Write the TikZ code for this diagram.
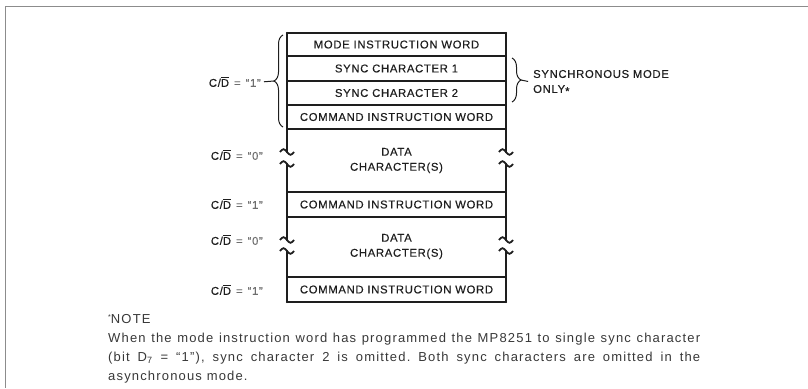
\documentclass[tikz,border=0pt]{standalone}
\usepackage{fontspec}
\setmainfont{Liberation Sans}
\newfontfamily\boxfont[LetterSpace=6,FakeBold=0.4]{Liberation Sans}
\newfontfamily\notefont[LetterSpace=9]{Liberation Sans}
\usetikzlibrary{decorations.pathreplacing}
\definecolor{ink}{HTML}{1E1E1E}
\definecolor{soft}{HTML}{6E6E6E}
\definecolor{frame}{HTML}{8C8C8C}
\definecolor{notecol}{HTML}{383838}
\begin{document}
\frenchspacing
\begin{tikzpicture}[x=1pt,y=-1pt,
  rowtext/.style={font=\boxfont\fontsize{11.3}{15}\selectfont, text=ink, inner sep=0pt, align=center},
  sidelabel/.style={font=\boxfont\fontsize{11.3}{15}\selectfont, text=ink, inner sep=0pt, anchor=east},
  outerline/.style={line width=2.2pt, draw=ink, line cap=round},
  divider/.style={line width=1.3pt, draw=ink},
  bracestyle/.style={draw=ink, line width=1pt, decorate, decoration={brace, amplitude=9pt}},
  tickline/.style={draw=ink, line width=1pt},
  brk/.pic={\draw[line width=1.8pt, draw=ink] (-7,0) sin (-3.5,-2.8) cos (0,0) sin (3.5,2.8) cos (7,0);}
]
\useasboundingbox (0,0) rectangle (808,388);
% frame
\draw[line width=1pt, draw=frame] (808,6) -- (5,6) -- (5,388);

% rows (text nodes)
\node[rowtext] (mode) at (396.5,44.5) {MODE INSTRUCTION WORD};
\node[rowtext] (sync1) at (396.5,68.5) {SYNC CHARACTER 1};
\node[rowtext] (sync2) at (396.5,93) {SYNC CHARACTER 2};
\node[rowtext] (cmd1) at (396.5,117) {COMMAND INSTRUCTION WORD};
\node[rowtext] (data1) at (396.5,160.5) {DATA\\CHARACTER(S)};
\node[rowtext] (cmd2) at (396.5,204.5) {COMMAND INSTRUCTION WORD};
\node[rowtext] (data2) at (396.5,246.5) {DATA\\CHARACTER(S)};
\node[rowtext] (cmd3) at (396.5,289.5) {COMMAND INSTRUCTION WORD};

% outer box
\draw[outerline] (287,33) -- (506,33);
\draw[outerline] (287,302) -- (506,302);
\foreach \x in {287,506}{
  \draw[outerline] (\x,33) -- (\x,152);
  \draw[outerline] (\x,164) -- (\x,240);
  \draw[outerline] (\x,251) -- (\x,302);
  \pic at (\x,152) {brk};
  \pic at (\x,164) {brk};
  \pic at (\x,240) {brk};
  \pic at (\x,251) {brk};
}
% dividers
\foreach \y in {56,81,105,129,192,217,277}{
  \draw[divider] (287,\y) -- (506,\y);
}

% side labels
\newcommand{\cdlabel}[1]{C/$\overline{\hbox{D}}$\hspace{5pt}\textcolor{soft}{=\hspace{5pt}“#1”}}
\node[sidelabel] (cd1) at (261,82) {\cdlabel{1}};
\node[sidelabel] (cd2) at (263,155) {\cdlabel{0}};
\node[sidelabel] (cd3) at (263,204) {\cdlabel{1}};
\node[sidelabel] (cd4) at (263,240) {\cdlabel{0}};
\node[sidelabel] (cd5) at (263,290) {\cdlabel{1}};

% left brace
\coordinate (lb1) at (283,127);
\coordinate (lb2) at (283,35);
\coordinate (ltip) at (274,81);
\draw[bracestyle] (lb1) -- (lb2);
\draw[tickline, shorten <=3pt] (cd1.east) -- (ltip);

% right brace
\coordinate (rb1) at (512,58);
\coordinate (rb2) at (512,102);
\coordinate (rtip) at (521,80);
\draw[bracestyle] (rb1) -- (rb2);
\node[rowtext, align=left, anchor=west] (sync) at (533,82.5) {SYNCHRONOUS MODE\\ONLY\raisebox{-0.35ex}{*}};
\draw[tickline, shorten >=5pt] (rtip) -- (sync.west);

% note
\node[anchor=north west, inner sep=0pt, text width=592pt, align=justify,
      font=\notefont\fontsize{13}{19}\selectfont, text=notecol] (note) at (108,314)
  {\raisebox{0.5ex}{\scriptsize *}NOTE\\
   When the mode instruction word has programmed the MP8251 to single sync character\linebreak
   (bit D\textsubscript{7} = “1”), sync character 2 is omitted. Both sync characters are omitted in the\linebreak
   asynchronous mode.};
\end{tikzpicture}
\end{document}
